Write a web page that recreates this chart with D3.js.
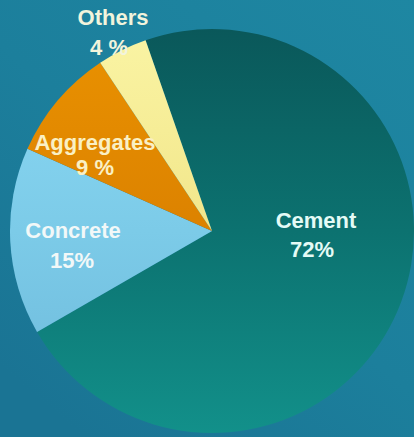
<!DOCTYPE html>
<html>
<head>
<meta charset="utf-8">
<script src="https://cdn.jsdelivr.net/npm/d3@7"></script>
<style>
  html, body { margin: 0; padding: 0; background: #1b7a96; }
  svg { display: block; }
</style>
</head>
<body>
<svg id="chart" width="414" height="437"></svg>
<script>
// data
const categories = ["Cement", "Concrete", "Aggregates", "Others"];
const shares = [72, 15, 9, 4];
const pctLabels = ["72%", "15%", "9 %", "4 %"];

const width = 414, height = 437;
const cx = 212, cy = 231, radius = 202;
const startDeg = -19.2;

const svg = d3.select("#chart");
const defs = svg.append("defs");

// background
const bg = defs.append("linearGradient").attr("id", "bg")
    .attr("x1", 1).attr("y1", 0).attr("x2", 0.2).attr("y2", 1);
bg.append("stop").attr("offset", "0%").attr("stop-color", "#1e87a2");
bg.append("stop").attr("offset", "55%").attr("stop-color", "#1c7f9c");
bg.append("stop").attr("offset", "100%").attr("stop-color", "#1a7494");
svg.append("rect").attr("width", width).attr("height", height).attr("fill", "url(#bg)");

// slice gradients (coordinates are in the pie group's space)
const grads = [
    ["#0a585a", "#0c7270", "#12908a"],
    ["#8cdaf5", "#7ccbe8", "#6cb8da"],
    ["#ea9200", "#dc8200", "#ca7400"],
    ["#faf4a4", "#f2e68a", "#e6d470"]
];
grads.forEach((g, i) => {
    const lg = defs.append("linearGradient").attr("id", "g" + i)
        .attr("gradientUnits", "userSpaceOnUse")
        .attr("x1", 0).attr("y1", -radius).attr("x2", 0).attr("y2", radius);
    lg.append("stop").attr("offset", "0%").attr("stop-color", g[0]);
    lg.append("stop").attr("offset", "50%").attr("stop-color", g[1]);
    lg.append("stop").attr("offset", "100%").attr("stop-color", g[2]);
});

const pie = d3.pie().sort(null)
    .startAngle(startDeg * Math.PI / 180)
    .endAngle((startDeg + 360) * Math.PI / 180);

const arc = d3.arc().innerRadius(0).outerRadius(radius);

const g = svg.append("g").attr("transform", `translate(${cx},${cy})`);

g.selectAll("path")
    .data(pie(shares))
    .enter().append("path")
    .attr("d", arc)
    .attr("fill", (d, i) => `url(#g${i})`);

// labels (offsets from pie centre, second line gap)
const labelPos = [
    { x: 104, y: -3, x2: 100, gap: 29, color: "#e4fbf6" },
    { x: -139, y: 7, x2: -140, gap: 30, color: "#f2f8f8" },
    { x: -117, y: -81, x2: -117, gap: 25, color: "#faf0c4" },
    { x: -99, y: -206, x2: -103, gap: 30, color: "#f2f4dc" }
];

const labels = g.selectAll("text.lbl")
    .data(categories)
    .enter().append("text")
    .attr("class", "lbl")
    .attr("text-anchor", "middle")
    .attr("font-family", "Liberation Sans, Arial, sans-serif")
    .attr("font-weight", "bold")
    .attr("font-size", 22)
    .attr("fill", (d, i) => labelPos[i].color);

labels.append("tspan")
    .attr("x", (d, i) => labelPos[i].x)
    .attr("y", (d, i) => labelPos[i].y)
    .text(d => d);

labels.append("tspan")
    .attr("x", (d, i) => labelPos[i].x2)
    .attr("y", (d, i) => labelPos[i].y + labelPos[i].gap)
    .text((d, i) => pctLabels[i]);
</script>
</body>
</html>
